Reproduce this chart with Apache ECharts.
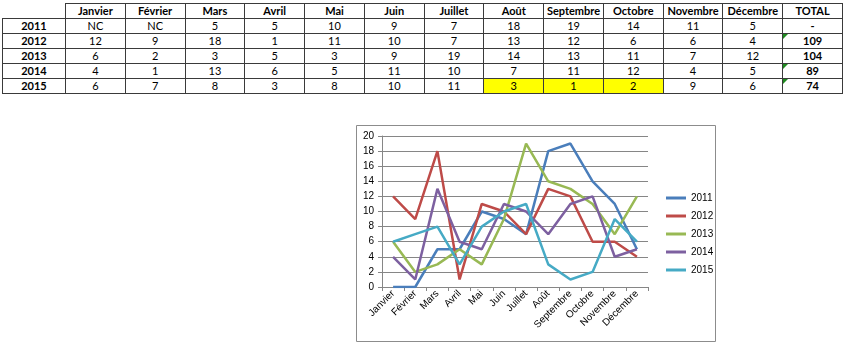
<!DOCTYPE html>
<html>
<head>
<meta charset="utf-8">
<script src="https://cdn.jsdelivr.net/npm/echarts@6/dist/echarts.min.js"></script>
<style>
  html, body { margin: 0; padding: 0; background: #fff; }
  #chart { position: absolute; left: 0; top: 0; width: 850px; height: 347px; }
  #tbl { position: absolute; left: 2px; top: 3px; border-collapse: collapse; table-layout: fixed;
         font-family: Lato, "Open Sans", sans-serif; font-size: 11px; color: #000; z-index: 2; background: #fff; }
  #tbl td { border: 1px solid #3a3a3a; height: 14px; padding: 0; line-height: 14px; text-align: center; overflow: hidden; white-space: nowrap; position: relative; }
  #tbl td.b { font-weight: bold; }
  #tbl td.corner { border-top: none; border-left: none; }
  #tbl td.hl { background: #ffff00; }
  #tbl td.tri::before { content: ""; position: absolute; left: 0; top: 0; width: 0; height: 0;
         border-top: 5px solid #1f8a1f; border-right: 5px solid transparent; }
</style>
</head>
<body>
<div id="chart"></div>
<table id="tbl"></table>
<script>
// ---- data ----
const months = ['Janvier','Février','Mars','Avril','Mai','Juin','Juillet','Août','Septembre','Octobre','Novembre','Décembre'];
const years = ['2011','2012','2013','2014','2015'];
const tableHeader = ['Janvier','Février','Mars','Avril','Mai','Juin','Juillet','Août','Septembre','Octobre','Novembre','Décembre','TOTAL'];
const row2011 = ['NC','NC','5','5','10','9','7','18','19','14','11','5','-'];
const row2012 = ['12','9','18','1','11','10','7','13','12','6','6','4','109'];
const row2013 = ['6','2','3','5','3','9','19','14','13','11','7','12','104'];
const row2014 = ['4','1','13','6','5','11','10','7','11','12','4','5','89'];
const row2015 = ['6','7','8','3','8','10','11','3','1','2','9','6','74'];
// chart series (NC plotted as 0)
const s2011 = [0,0,5,5,10,9,7,18,19,14,11,5];
const s2012 = [12,9,18,1,11,10,7,13,12,6,6,4];
const s2013 = [6,2,3,5,3,9,19,14,13,11,7,12];
const s2014 = [4,1,13,6,5,11,10,7,11,12,4,5];
const s2015 = [6,7,8,3,8,10,11,3,1,2,9,6];
const yTicks = { min: 0, max: 20, interval: 2 };

// ---- table ----
const tableRows = [row2011,row2012,row2013,row2014,row2015];
const highlighted = { '2015': [7,8,9] };
const totalFlag = { '2012': true, '2014': true, '2015': true };
(function buildTable(){
  const t = document.getElementById('tbl');
  let html = '<colgroup><col style="width:63px">';
  for (let i = 0; i < tableHeader.length; i++) html += '<col style="width:59.77px">';
  html += '</colgroup><tr><td class="corner"></td>';
  tableHeader.forEach(h => { html += '<td class="b">' + h + '</td>'; });
  html += '</tr>';
  tableRows.forEach((r, ri) => {
    const y = years[ri];
    html += '<tr><td class="b">' + y + '</td>';
    r.forEach((v, ci) => {
      const cls = [];
      if (ci === r.length - 1) { cls.push('b'); if (totalFlag[y]) cls.push('tri'); }
      if (highlighted[y] && highlighted[y].indexOf(ci) >= 0) cls.push('hl');
      html += '<td class="' + cls.join(' ') + '">' + v + '</td>';
    });
    html += '</tr>';
  });
  t.innerHTML = html;
})();

// ---- chart ----
const colors = ['#4a7ebb','#be4b48','#98b954','#7d60a0','#46aac5'];
const seriesData = [s2011,s2012,s2013,s2014,s2015];
const chart = echarts.init(document.getElementById('chart'), null, { renderer: 'canvas' });
const fontFam = '"Liberation Sans", Arial, sans-serif';
chart.setOption({
  animation: false,
  color: colors,
  graphic: [{
    type: 'rect', z: -10, silent: true,
    shape: { x: 356.5, y: 125.5, width: 359, height: 216 },
    style: { fill: '#fff', stroke: '#8c8c8c', lineWidth: 1 }
  }],
  grid: { left: 382, top: 136, width: 266, height: 151, containLabel: false },
  legend: {
    orient: 'vertical', left: 661, top: 186,
    icon: 'rect', itemWidth: 20, itemHeight: 3, itemGap: 4,
    textStyle: { fontSize: 10, fontFamily: fontFam, color: '#000', lineHeight: 14 },
    data: years
  },
  xAxis: {
    type: 'category', data: months, boundaryGap: true,
    axisLine: { lineStyle: { color: '#868686', width: 1 } },
    axisTick: { show: true, interval: 0, length: 4, lineStyle: { color: '#868686' } },
    axisLabel: { interval: 0, rotate: 45, fontSize: 10, fontFamily: fontFam, color: '#000', margin: 5 },
    splitLine: { show: false }
  },
  yAxis: {
    type: 'value', min: yTicks.min, max: yTicks.max, interval: yTicks.interval,
    axisLine: { show: true, lineStyle: { color: '#868686', width: 1 } },
    axisTick: { show: true, length: 4, lineStyle: { color: '#868686' } },
    axisLabel: { fontSize: 10, fontFamily: fontFam, color: '#000', margin: 8 },
    splitLine: { show: true, lineStyle: { color: '#868686', width: 1 } }
  },
  series: years.map((y, i) => ({
    name: y, type: 'line', data: seriesData[i], showSymbol: false, symbol: 'none',
    lineStyle: { width: 2.5, color: colors[i] }, itemStyle: { color: colors[i] },
    emphasis: { disabled: true }
  }))
});
</script>
</body>
</html>
